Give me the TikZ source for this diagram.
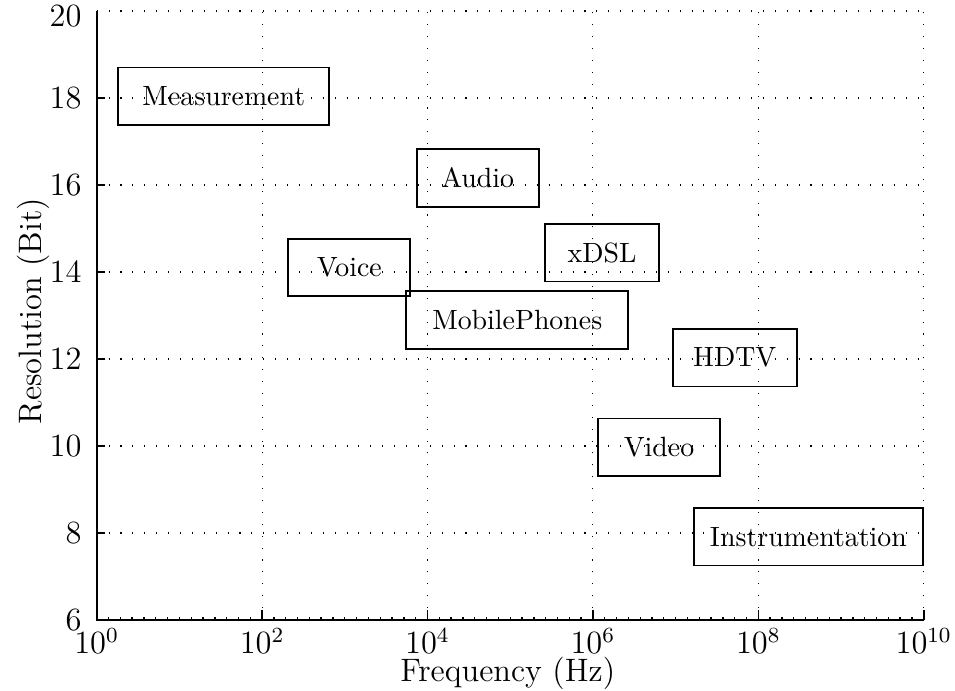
\documentclass[tikz,border=0pt]{standalone}
\usetikzlibrary{positioning}
\begin{document}
\begin{tikzpicture}[x=1.0751cm, y=0.5655cm,
  axisline/.style={line width=0.7pt},
  gridline/.style={line width=0.4pt, loosely dotted},
  appbox/.style={draw, line width=0.7pt, inner sep=0pt, minimum height=0.7475cm,
    font=\fontsize{10.3}{12}\selectfont},
  ticklabel/.style={font=\large, inner sep=0pt}]
  \useasboundingbox (-1.169,4.391) rectangle (10.378,20.253);

  % grid
  \foreach \gx in {2,4,6,8,10} \draw[gridline] (\gx,6) -- (\gx,20);
  \foreach \gy in {8,10,...,20} \draw[gridline] (0,\gy) -- (10,\gy);

  % minor ticks on the frequency axis
  \foreach \m in {1,...,69} \draw[line width=0.5pt] (\m/7,6) -- ++(0,0.07);
  % major ticks
  \foreach \gx in {2,4,6,8,10} \draw[line width=0.6pt] (\gx,6) -- ++(0,0.23);
  \foreach \gy in {8,10,...,18} \draw[line width=0.6pt] (0,\gy) -- ++(0.1,0);

  % axes
  \coordinate (origin) at (0,6);
  \coordinate (xend) at (10,6);
  \coordinate (yend) at (0,20);
  \draw[axisline] (yend) -- (origin) -- (xend);

  % tick labels
  \foreach \gy in {6,8,...,18}
    \node[ticklabel, anchor=east, xshift=-0.19cm] (yl\gy) at (0,\gy) {\gy};
  \node[ticklabel, anchor=east, xshift=-0.19cm, yshift=-0.065cm] (yl20) at (0,20) {20};
  \foreach \gx in {0,2,...,10}
    \node[ticklabel, anchor=north, yshift=-0.1cm] (xl\gx) at (\gx,6) {$10^{\gx}$};

  % axis titles
  \node[font=\large, anchor=base] (xtitle) at (4.97,4.582) {Frequency (Hz)};
  \node[font=\large, anchor=base, rotate=90] (ytitle) at (-0.667,13.1) {Resolution (Bit)};

  % application areas
  \node[appbox, minimum width=2.743cm] (measurement) at (1.537,18.04) {Measurement};
  \node[appbox, minimum width=1.586cm] (audio) at (4.607,16.161) {Audio};
  \node[appbox, minimum width=1.586cm] (voice) at (3.054,14.108) {Voice};
  \node[appbox, minimum width=1.486cm] (xdsl) at (6.112,14.444) {xDSL};
  \node[appbox, minimum width=2.890cm] (mobile) at (5.085,12.897) {MobilePhones};
  \node[appbox, minimum width=1.612cm] (hdtv) at (7.715,12.030) {HDTV};
  \node[appbox, minimum width=1.586cm] (video) at (6.799,9.972) {Video};
  \node[appbox, minimum width=2.973cm] (instr) at (8.605,7.915) {Instrumentation};
\end{tikzpicture}
\end{document}
